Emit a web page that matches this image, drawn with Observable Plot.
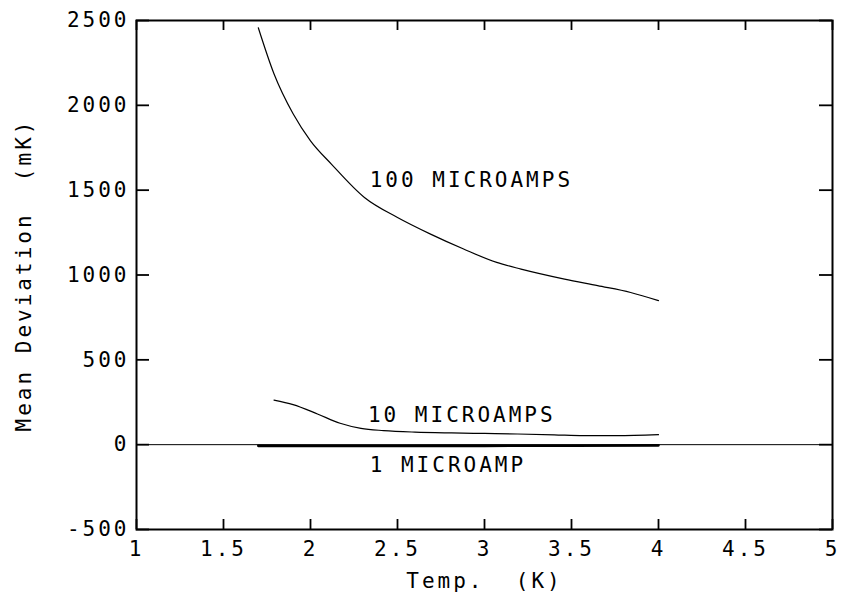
<!DOCTYPE html>
<html>
<head>
<meta charset="utf-8">
<script src="https://cdn.jsdelivr.net/npm/d3@7"></script>
<script src="https://cdn.jsdelivr.net/npm/@observablehq/plot@0.6"></script>
<style>
  html, body { margin: 0; padding: 0; background: #fff; }
  svg text { white-space: pre; }
</style>
</head>
<body>
<div id="chart"></div>
<script>
// Temperatures (K) and mean deviations (mK)
const temp100 = [1.70, 1.79, 1.90, 2.00, 2.12, 2.31, 2.50, 2.69, 2.88, 3.07, 3.21, 3.46, 3.65, 3.84, 4.00];
const dev100  = [2457, 2186, 1950, 1791, 1654, 1457, 1339, 1241, 1153, 1074, 1035, 976, 937, 897, 849];

const temp10 = [1.79, 1.90, 2.04, 2.17, 2.29, 2.42, 2.60, 2.81, 3.00, 3.19, 3.40, 3.57, 3.76, 4.00];
const dev10  = [263, 236, 181, 126, 96, 83, 74, 69, 66, 63, 58, 53, 53, 59];

const temp1 = [1.70, 2.00, 2.50, 3.00, 3.50, 4.00];
const dev1  = [-7, -8, -8, -7, -6, -4];

const curveLabels = ["100 MICROAMPS", "10 MICROAMPS", "1 MICROAMP"];
const labelTemp = [2.34, 2.33, 2.34];
const labelDev = [1556, 171, -124];

const xTicks = [1, 1.5, 2, 2.5, 3, 3.5, 4, 4.5, 5];
const yTicks = [-500, 0, 500, 1000, 1500, 2000, 2500];
const xTitle = "Temp.  (K)";
const yTitle = "Mean Deviation  (mK)";

const series = (t, v) => t.map((x, i) => ({x, y: v[i]}));
const s100 = series(temp100, dev100);
const s10 = series(temp10, dev10);
const s1 = series(temp1, dev1);
const labels = curveLabels.map((text, i) => ({text, x: labelTemp[i], y: labelDev[i]}));

const font = "DejaVu Sans Mono";
const fmt = d => String(d);
const W = 842, H = 597, ML = 136, MR = 10, MT = 20, MB = 68;
const frameW = W - ML - MR, frameH = H - MT - MB;
const tickLenX = 10, tickLenY = 13;

const chart = Plot.plot({
  width: W,
  height: H,
  marginLeft: ML,
  marginRight: MR,
  marginTop: MT,
  marginBottom: MB,
  style: {fontFamily: font, fontSize: "21px", color: "#000", background: "#fff", letterSpacing: "3px"},
  x: {domain: [1, 5]},
  y: {domain: [-500, 2500]},
  marks: [
    Plot.ruleY([0], {stroke: "#000", strokeWidth: 1}),
    // tick labels
    Plot.axisX(xTicks, {anchor: "bottom", tickSize: 0, tickPadding: 12, tickFormat: fmt, label: null}),
    Plot.axisY(yTicks, {anchor: "left", tickSize: 0, tickPadding: 7, tickFormat: fmt, label: null}),
    // inward ticks on all four sides
    Plot.tickX(xTicks, {x: d => d, stroke: "#000", strokeWidth: 1.8, insetTop: frameH - tickLenX}),
    Plot.tickX(xTicks, {x: d => d, stroke: "#000", strokeWidth: 1.8, insetBottom: frameH - tickLenX}),
    Plot.tickY(yTicks, {y: d => d, stroke: "#000", strokeWidth: 1.8, insetRight: frameW - tickLenY}),
    Plot.tickY(yTicks, {y: d => d, stroke: "#000", strokeWidth: 1.8, insetLeft: frameW - tickLenY}),
    Plot.line(s100, {x: "x", y: "y", stroke: "#000", strokeWidth: 1.2, curve: "monotone-x"}),
    Plot.line(s10, {x: "x", y: "y", stroke: "#000", strokeWidth: 1.2, curve: "monotone-x"}),
    Plot.line(s1, {x: "x", y: "y", stroke: "#000", strokeWidth: 2.6, curve: "monotone-x"}),
    Plot.text(labels, {x: "x", y: "y", text: "text", textAnchor: "start", lineAnchor: "middle", fill: "#000", fontSize: 21}),
    Plot.text([xTitle], {frameAnchor: "bottom", dy: 52, textAnchor: "middle", lineAnchor: "middle", fill: "#000", fontSize: 21}),
    Plot.text([yTitle], {frameAnchor: "left", dx: -112, rotate: -90, textAnchor: "middle", lineAnchor: "middle", fill: "#000", fontSize: 21}),
    Plot.frame({stroke: "#000", strokeWidth: 2})
  ]
});
document.getElementById("chart").appendChild(chart);
</script>
</body>
</html>
